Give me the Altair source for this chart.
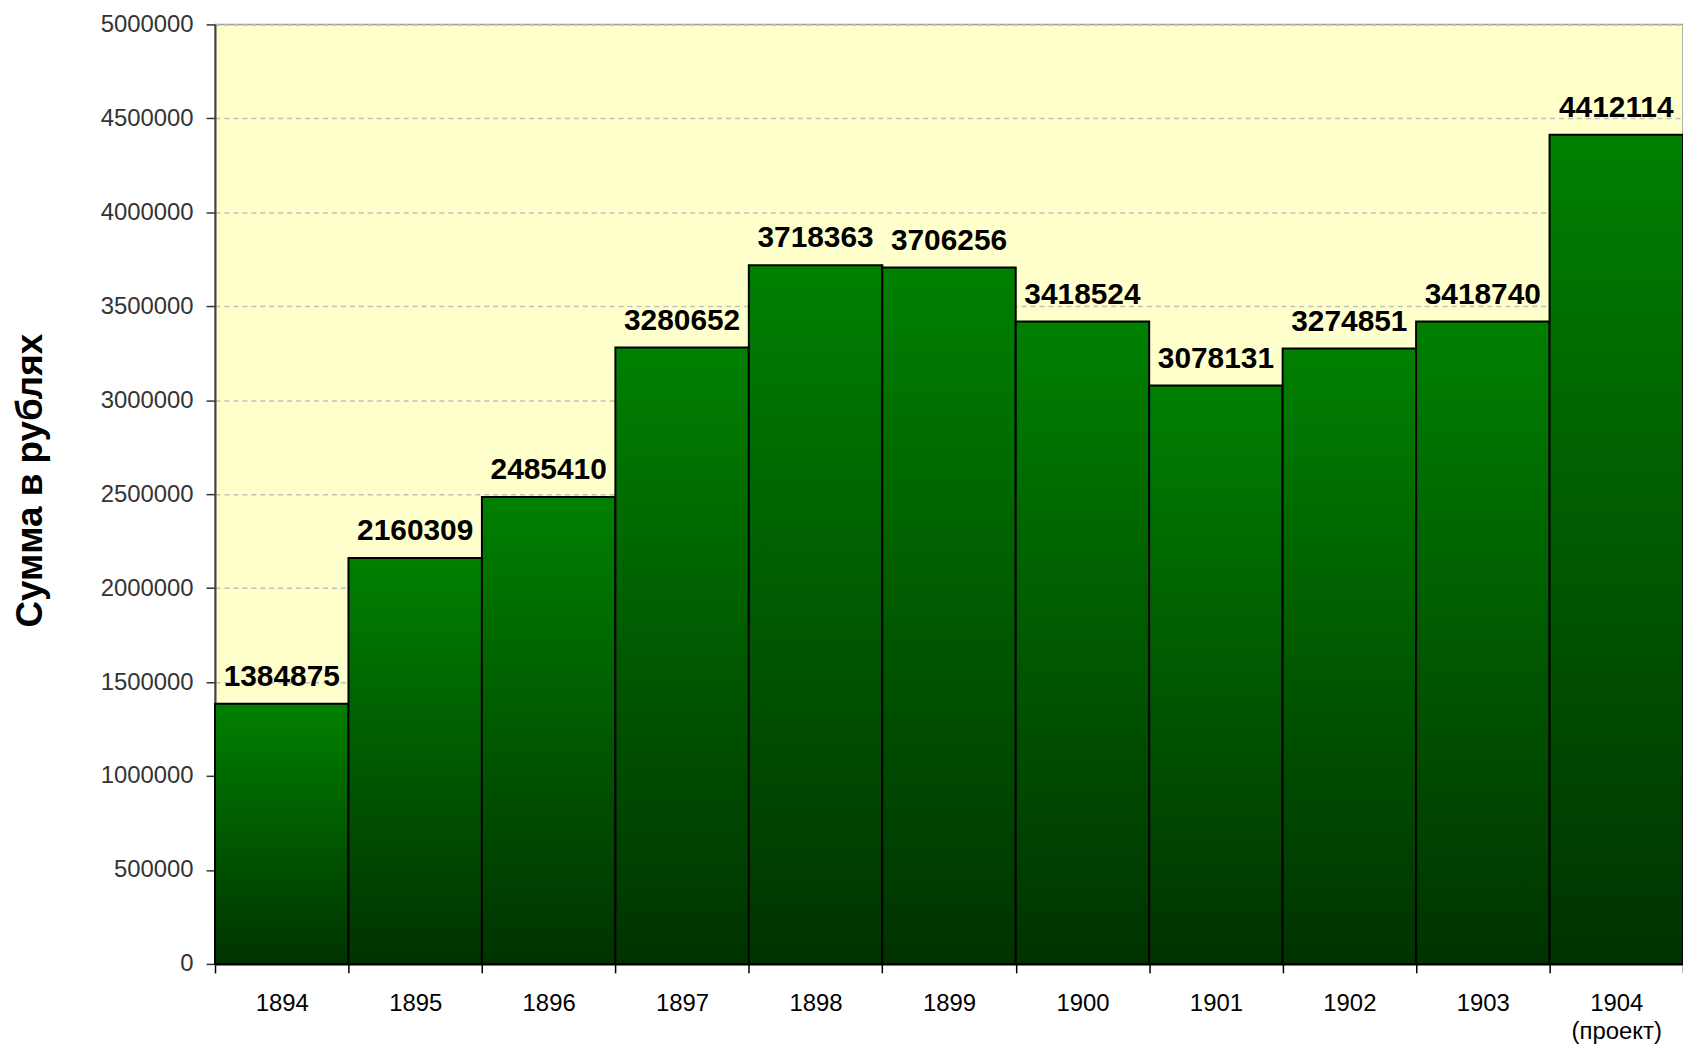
import altair as alt
import pandas as pd

years = ["1894", "1895", "1896", "1897", "1898", "1899", "1900", "1901", "1902", "1903", "1904"]
values = [1384875, 2160309, 2485410, 3280652, 3718363, 3706256, 3418524, 3078131, 3274851, 3418740, 4412114]
y_ticks = [0, 500000, 1000000, 1500000, 2000000, 2500000, 3000000, 3500000, 4000000, 4500000, 5000000]
y_title = "Сумма в рублях"
note_year = "1904"
note_text = "(проект)"

df = pd.DataFrame({"year": years, "value": values})

FONT = "Liberation Sans"

grad = alt.Gradient(
    gradient="linear",
    stops=[
        alt.GradientStop(color="#008000", offset=0),
        alt.GradientStop(color="#003300", offset=1),
    ],
    x1=0, x2=0, y1=0, y2=1,
)

label_expr = f"datum.value == '{note_year}' ? ['{note_year}', '{note_text}'] : datum.value"

base = alt.Chart(df).encode(
    x=alt.X(
        "year:N",
        sort=None,
        scale=alt.Scale(paddingInner=0, paddingOuter=0),
        axis=alt.Axis(
            title=None,
            labelAngle=0,
            tickBand="extent",
            labelExpr=label_expr,
            labelFont=FONT,
            labelFontSize=24,
            labelColor="#000000",
            labelPadding=19,
            labelLineHeight=28,
            labelBaseline="top",
            tickSize=9,
            tickColor="#000000",
            tickWidth=1.5,
            domainColor="#000000",
            domainWidth=2,
            grid=False,
        ),
    ),
    y=alt.Y(
        "value:Q",
        scale=alt.Scale(domain=[0, 5000000], nice=False, zero=True),
        axis=alt.Axis(
            values=y_ticks,
            format="d",
            title=y_title,
            titleFont=FONT,
            titleFontSize=37,
            titleFontWeight="bold",
            titleColor="#000000",
            titleX=-174,
            titleY=458,
            titleBaseline="alphabetic",
            titleAngle=270,
            labelFont=FONT,
            labelFontSize=24,
            labelColor="#333333",
            labelPadding=13,
            tickSize=9,
            tickColor="#333333",
            tickWidth=1.5,
            domainColor="#404040",
            domainWidth=2,
            grid=True,
            gridColor="#c0c0c0",
            gridDash=[5, 4],
            gridWidth=1.5,
        ),
    ),
)

bars = base.mark_bar(color=grad, stroke="#000000", strokeWidth=2)

labels = base.mark_text(
    font=FONT,
    fontSize=30,
    fontWeight="bold",
    color="#000000",
    baseline="alphabetic",
    dy=-18,
).encode(text=alt.Text("value:Q", format="d"))

chart = (
    (bars + labels)
    .properties(
        width=1475,
        height=944,
        autosize=alt.AutoSizeParams(type="none"),
        padding={"left": 208, "top": 14, "right": 0, "bottom": 81},
        background="#ffffff",
    )
    .configure_view(fill="#FFFFCC", stroke="#999999", strokeWidth=1.5)
)

chart.save("out.html", embed_options={"renderer": "svg", "actions": False})
